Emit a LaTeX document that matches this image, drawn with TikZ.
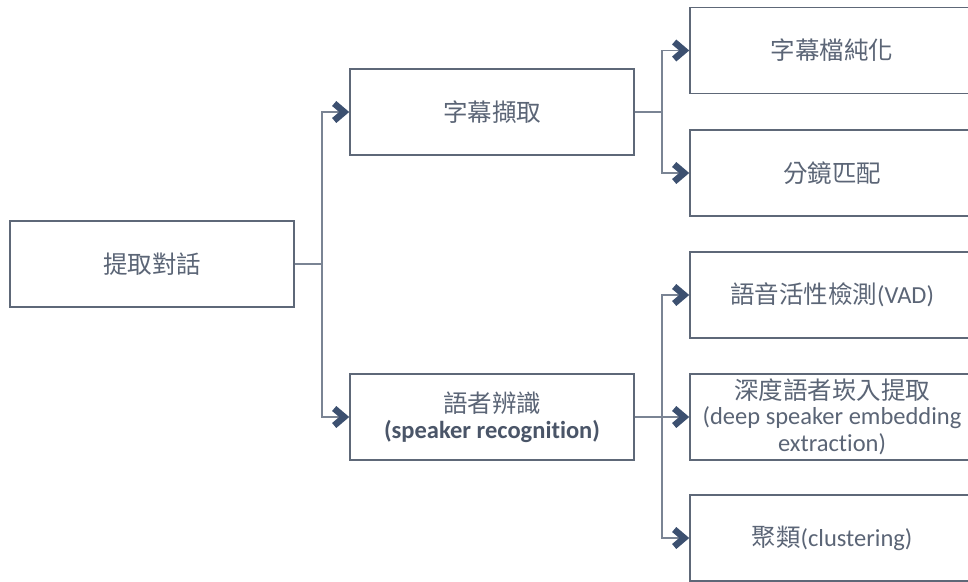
\documentclass[tikz,border=0pt]{standalone}
\usepackage{fontspec}
\setmainfont{Carlito}[Ligatures=NoCommon]
\newfontfamily\cjk{Noto Sans CJK TC}
\usetikzlibrary{arrows.meta}
\definecolor{boxline}{HTML}{5E6878}
\definecolor{conn}{HTML}{7A8494}
\definecolor{tip}{HTML}{3C5070}
\definecolor{txt}{HTML}{5B6576}
\definecolor{txtb}{HTML}{4A5568}
\tikzset{
  box/.style={draw=boxline, line width=1.6pt, fill=white, rectangle,
    minimum width=284pt, minimum height=86pt, inner sep=2pt,
    align=center, text=txt, font=\fontsize{24.5}{29}\selectfont},
  conline/.style={draw=conn, line width=1.4pt},
  arr/.style={conline, -{Straight Barb[length=10pt,width=17pt,line width=6.5pt,color=tip]}}
}
\begin{document}
\begin{tikzpicture}[x=1pt,y=-1pt]
\useasboundingbox (0,0) rectangle (968,581);
\fill[white] (0,0) rectangle (968,581);
\node[box] (root) at (152,264) {\cjk 提取對話};
\node[box] (a) at (492,112) {\cjk 字幕擷取};
\node[box] (b) at (492,417) {{\cjk 語者辨識}\\[-3pt]\textbf{\color{txtb}(speaker recognition)}};
\node[box] (a1) at (832,50.5) {\cjk 字幕檔純化};
\node[box] (a2) at (832,173) {\cjk 分鏡匹配};
\node[box] (b1) at (832,295) {{\cjk 語音活性檢測}(VAD)};
\node[box] (b2) at (832,417) {{\cjk 深度語者崁入提取}\\[-4pt](deep speaker embedding\\[-2pt]extraction)};
\node[box] (b3) at (832,538) {{\cjk 聚類}(clustering)};
\coordinate (j1) at (322,264);
\coordinate (j2) at (662,112);
\coordinate (j3) at (662,417);
\draw[conline] (root.east) -- (j1);
\draw[arr] (j1) |- (a.west);
\draw[arr] (j1) |- (b.west);
\draw[conline] (a.east) -- (j2);
\draw[arr] (j2) |- (a1.west);
\draw[arr] (j2) |- (a2.west);
\draw[conline] (b.east) -- (j3);
\draw[arr] (j3) |- (b1.west);
\draw[arr] (j3) -- (b2.west);
\draw[arr] (j3) |- (b3.west);
\end{tikzpicture}
\end{document}
